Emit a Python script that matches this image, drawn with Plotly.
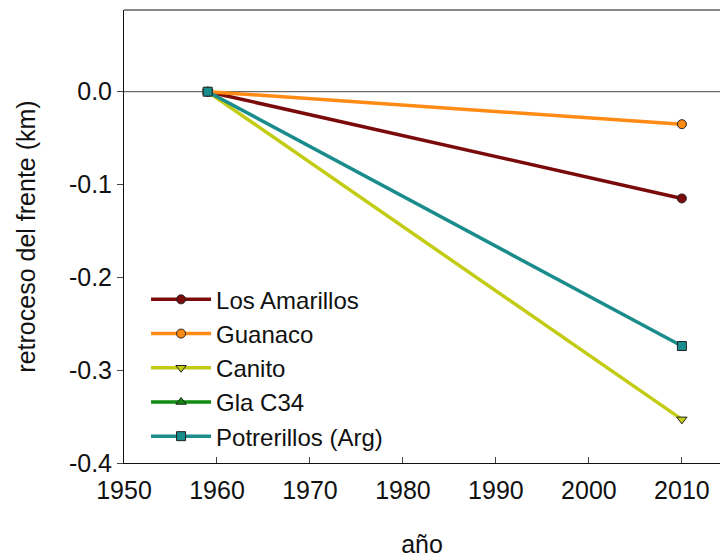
import plotly.graph_objects as go

years = [1959, 2010]
los_amarillos = [0.0, -0.115]
guanaco = [0.0, -0.035]
canito = [0.0, -0.353]
gla_c34 = [0.0, None]
potrerillos = [0.0, -0.274]

x_ticks = [1950, 1960, 1970, 1980, 1990, 2000, 2010]
y_ticks = [0.0, -0.1, -0.2, -0.3, -0.4]
y_labels = ["0.0", "-0.1", "-0.2", "-0.3", "-0.4"]

series = [
    ("Los Amarillos", los_amarillos, "#7b0a0a", "circle"),
    ("Guanaco", guanaco, "#ff8a14", "circle"),
    ("Canito", canito, "#c3cc14", "triangle-down"),
    ("Gla C34", gla_c34, "#118a11", "triangle-up"),
    ("Potrerillos (Arg)", potrerillos, "#1a8c8c", "square"),
]

fig = go.Figure()
for name, vals, color, sym in series:
    fig.add_trace(go.Scatter(
        x=years, y=vals, name=name, mode="lines+markers",
        line=dict(color=color, width=3.5),
        marker=dict(symbol=sym, size=9, color=color, line=dict(color="#222", width=1)),
    ))

fig.add_hline(y=0, line=dict(color="#444", width=1), layer="below")

fig.update_layout(
    width=721, height=558,
    paper_bgcolor="white", plot_bgcolor="white",
    font=dict(family="Liberation Sans, Arial", size=25, color="#111"),
    margin=dict(l=124, r=1, t=10, b=95),
    showlegend=True,
    legend=dict(x=0.037, y=0.41, xanchor="left", yanchor="top",
                bgcolor="rgba(0,0,0,0)", font=dict(size=24),
                itemwidth=60, traceorder="normal"),
    xaxis=dict(range=[1950, 2014.1], tickvals=x_ticks, ticks="inside", ticklen=6,
               showgrid=False, zeroline=False, showline=True, linecolor="#111",
               linewidth=1, tickfont=dict(size=25), ticklabelstandoff=5,
               title=dict(text="año", font=dict(size=25), standoff=34)),
    yaxis=dict(range=[-0.4, 0.088], tickvals=y_ticks, ticktext=y_labels,
               ticks="outside", ticklen=6, showgrid=False, zeroline=False,
               showline=True, linecolor="#111", linewidth=1, tickfont=dict(size=25),
               title=dict(text="retroceso del frente (km)", font=dict(size=25), standoff=26)),
)
fig.add_shape(type="line", xref="paper", yref="paper", x0=0, x1=1, y0=1, y1=1,
              line=dict(color="#111", width=1))

fig.write_html("out.html", config={"displayModeBar": False},
               post_script="document.body.style.margin='0';")
